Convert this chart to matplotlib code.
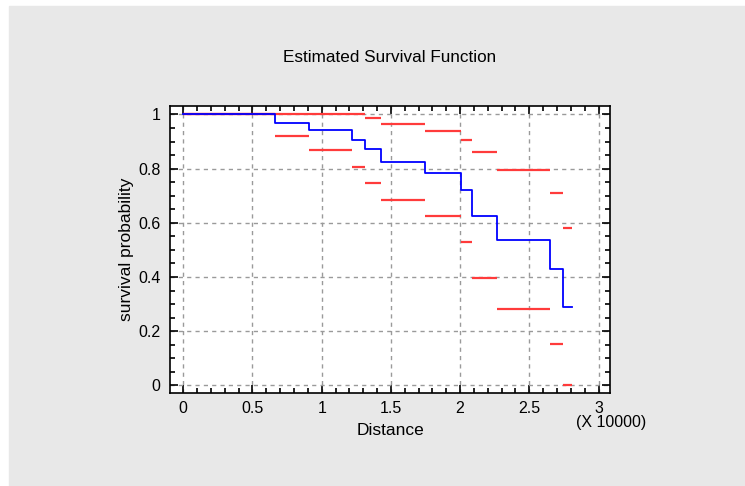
import matplotlib
matplotlib.use("Agg")
import matplotlib.pyplot as plt
from matplotlib.patches import Rectangle
from matplotlib.ticker import MultipleLocator
import numpy as np

plt.rcParams["font.family"] = ["Liberation Sans", "DejaVu Sans"]

# Kaplan-Meier estimate (distance, step starts)
times = np.array([0, 6650, 9100, 12210, 13150, 14310, 17490, 20070, 20880,
                  22690, 26520, 27460])
t_end = 28060
surv = np.array([1.0, 0.969, 0.943, 0.906, 0.871, 0.825, 0.782, 0.720, 0.626,
                 0.538, 0.430, 0.289])
upper = np.array([1.0, 1.0, 1.0, 1.0, 0.988, 0.965, 0.940, 0.906, 0.860,
                  0.796, 0.711, 0.582])
lower = np.array([1.0, 0.922, 0.870, 0.807, 0.748, 0.685, 0.625, 0.529,
                  0.397, 0.282, 0.153, 0.0])
scale = 10000

W, H = 745, 486
fig = plt.figure(figsize=(W / 100, H / 100), dpi=100, facecolor="white")
fig.patches.append(Rectangle((9 / W, 0), 1 - 9 / W, 1 - 6 / H,
                             transform=fig.transFigure, color="#e8e8e8",
                             zorder=-10))
ax = fig.add_axes([170 / W, 1 - 393 / H, 440 / W, 287 / H])
ax.set_facecolor("white")

x = times / scale
x_end = np.append(x[1:], t_end / scale)

ax.hlines(upper, x, x_end, color="#ff3b3b", lw=1.6, zorder=3)
ax.hlines(lower, x, x_end, color="#ff3b3b", lw=1.6, zorder=3)
ax.step(np.append(x, t_end / scale), np.append(surv, surv[-1]),
        where="post", color="#0000ff", lw=1.3, zorder=4)

ax.set_xlim(-0.096, 3.083)
ax.set_ylim(-0.028, 1.031)
ax.xaxis.set_minor_locator(MultipleLocator(0.1))
ax.yaxis.set_minor_locator(MultipleLocator(0.05))
ax.set_xticks(np.arange(0, 3.01, 0.5))
ax.set_xticklabels(["0", "0.5", "1", "1.5", "2", "2.5", "3"])
ax.set_yticks(np.arange(0, 1.01, 0.2))
ax.set_yticklabels(["0", "0.2", "0.4", "0.6", "0.8", "1"])
ax.tick_params(which="both", direction="in", top=True, right=True,
               labelsize=11.5, width=1.2, colors="black")
ax.tick_params(which="major", length=6, pad=7)
ax.tick_params(axis="x", which="major", pad=6)
ax.tick_params(which="minor", length=3.5)
ax.grid(True, which="major", color="#9a9a9a", ls=(0, (3, 3)), lw=1)
for s in ax.spines.values():
    s.set_linewidth(1.2)

ax.set_xlabel("Distance", fontsize=12.5, labelpad=5)
ax.set_ylabel("survival probability", fontsize=12.5, labelpad=3)
fig.text(611 / W, 1 - 422 / H, "(X 10000)", fontsize=11.5, ha="center",
         va="center")
fig.text(390 / W, 1 - 57 / H, "Estimated Survival Function", fontsize=12.3,
         ha="center", va="center")

fig.savefig("out.png", dpi=100, facecolor=fig.get_facecolor())
